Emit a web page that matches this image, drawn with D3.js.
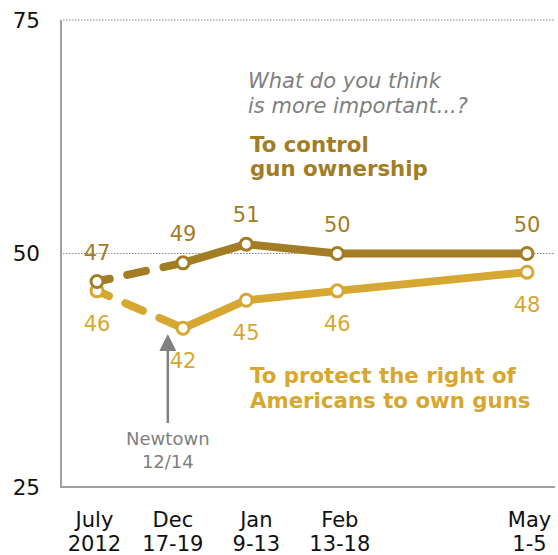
<!DOCTYPE html>
<html>
<head>
<meta charset="utf-8">
<script src="https://cdn.jsdelivr.net/npm/d3@7"></script>
<style>
  html, body { margin: 0; padding: 0; background: #fff; }
  svg { display: block; font-family: "DejaVu Sans", Verdana, sans-serif; }
</style>
</head>
<body>
<svg id="chart" width="558" height="555"></svg>
<script>
// ---- data ----
const categories = ["July 2012", "Dec 17-19", "Jan 9-13", "Feb 13-18", "May 1-5"];
const labelLine1 = ["July", "Dec", "Jan", "Feb", "May"];
const labelLine2 = ["2012", "17-19", "9-13", "13-18", "1-5"];
// approximate position along the time axis (days relative to Dec 17-19 poll, axis is compressed before Dec)
const dayPos = [-34, 0, 25, 61, 136];
// where the category labels sit on the same axis
const tickDay = [-35, -4, 29, 62, 137];
const controlGuns = [47, 49, 51, 50, 50];
const protectRight = [46, 42, 45, 46, 48];
const yTicks = [25, 50, 75];
const gridValues = [50, 75];
const newtownDay = -6;

// ---- layout ----
const svg = d3.select("#chart");
const dark = "#a27d24";
const light = "#d6a731";
const grayText = "#808080";

const x = d3.scaleLinear().domain([-34, 136]).range([97, 527]);
const y = d3.scaleLinear().domain([25, 75]).range([487, 20]);
const plotLeft = 61, plotRight = 555;

// gridlines
svg.append("g").selectAll("line").data(gridValues).join("line")
  .attr("x1", plotLeft + 2).attr("x2", plotRight)
  .attr("y1", d => y(d)).attr("y2", d => y(d))
  .attr("stroke", "#8c8c8c").attr("stroke-width", 1)
  .attr("stroke-dasharray", "1.5,1.5");

// axes lines
svg.append("line").attr("x1", plotLeft).attr("x2", plotLeft)
  .attr("y1", y(75)).attr("y2", y(25))
  .attr("stroke", "#a0a0a0").attr("stroke-width", 2);
svg.append("line").attr("x1", plotLeft - 1).attr("x2", plotRight)
  .attr("y1", y(25)).attr("y2", y(25))
  .attr("stroke", "#a0a0a0").attr("stroke-width", 2);

// y tick labels
svg.append("g").selectAll("text").data(yTicks).join("text")
  .attr("x", 40).attr("y", d => y(d)).attr("dy", "0.36em")
  .attr("text-anchor", "end").attr("font-size", 21.5).attr("fill", "#111")
  .text(d => d);

// x labels
const xl = svg.append("g").selectAll("text").data(categories).join("text")
  .attr("text-anchor", "middle").attr("font-size", 21).attr("fill", "#111")
  .attr("x", (d, i) => x(tickDay[i]));
xl.append("tspan").attr("x", (d, i) => x(tickDay[i])).attr("y", 527).text((d, i) => labelLine1[i]);
xl.append("tspan").attr("x", (d, i) => x(tickDay[i])).attr("y", 551).text((d, i) => labelLine2[i]);

function drawSeries(values, color, labelAbove) {
  const pts = values.map((v, i) => [x(dayPos[i]), y(v)]);
  const line = d3.line();
  const g = svg.append("g");
  // dashed segment July -> Dec
  g.append("path").attr("d", line(pts.slice(0, 2)))
    .attr("fill", "none").attr("stroke", color).attr("stroke-width", 8)
    .attr("stroke-linecap", "round").attr("stroke-dasharray", "19,18")
    .attr("stroke-dashoffset", 6);
  // solid segment Dec onward
  g.append("path").attr("d", line(pts.slice(1)))
    .attr("fill", "none").attr("stroke", color).attr("stroke-width", 8)
    .attr("stroke-linejoin", "round").attr("stroke-linecap", "round");
  g.selectAll("circle").data(pts).join("circle")
    .attr("cx", d => d[0]).attr("cy", d => d[1]).attr("r", 6)
    .attr("fill", "#fff").attr("stroke", color).attr("stroke-width", 3);
  g.selectAll("text").data(values).join("text")
    .attr("x", (d, i) => pts[i][0])
    .attr("y", (d, i) => pts[i][1] + (labelAbove ? -22 : 40))
    .attr("text-anchor", "middle").attr("font-size", 21).attr("fill", color)
    .text(d => d);
}
drawSeries(protectRight, light, false);
drawSeries(controlGuns, dark, true);

// question text
const q = svg.append("text").attr("font-size", 21).attr("font-style", "italic").attr("fill", grayText);
q.append("tspan").attr("x", 248).attr("y", 88).text("What do you think");
q.append("tspan").attr("x", 248).attr("y", 113).text("is more important...?");

const c = svg.append("text").attr("font-size", 21.3).attr("font-weight", "bold").attr("fill", dark);
c.append("tspan").attr("x", 250).attr("y", 152).text("To control");
c.append("tspan").attr("x", 250).attr("y", 176).text("gun ownership");

const p = svg.append("text").attr("font-size", 21.3).attr("font-weight", "bold").attr("fill", light);
p.append("tspan").attr("x", 250).attr("y", 383).text("To protect the right of");
p.append("tspan").attr("x", 250).attr("y", 408).text("Americans to own guns");

// Newtown annotation
const nx = x(newtownDay);
svg.append("line").attr("x1", nx).attr("x2", nx).attr("y1", 423).attr("y2", 348)
  .attr("stroke", grayText).attr("stroke-width", 2.5);
svg.append("path")
  .attr("d", d3.line()([[nx, 334], [nx - 8.5, 351], [nx + 8.5, 351]]) + "Z")
  .attr("fill", grayText);
const n = svg.append("text").attr("font-size", 18).attr("fill", grayText).attr("text-anchor", "middle");
n.append("tspan").attr("x", nx).attr("y", 445).text("Newtown");
n.append("tspan").attr("x", nx).attr("y", 468).text("12/14");
</script>
</body>
</html>
